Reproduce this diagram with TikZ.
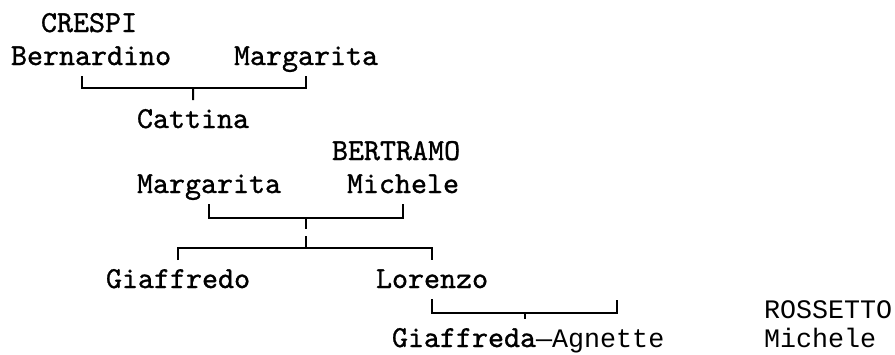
\documentclass[tikz,border=0pt]{standalone}
\usepackage{fontspec}
\usetikzlibrary{calc}
\newfontfamily\serifmono{lmmono10-regular.otf}[FakeBold=1]
\newfontfamily\sansmono{Liberation Mono}

\begin{document}
\begin{tikzpicture}[x=1pt,y=-1pt,
  person/.style={anchor=base west,inner sep=0pt,text height=27pt,text depth=10pt,
    font=\serifmono\fontsize{30.5}{32}\selectfont},
  sperson/.style={person,font=\sansmono\fontsize{26.7}{32}\selectfont},
  line width=2pt]
  \useasboundingbox (0,0) rectangle (895,354);

  % CRESPI
  \node[person] (crespi) at (40,32) {CRESPI};
  \node[person] (bern) at (10,65) {Bernardino};
  \node[person] (marg1) at (233,65) {Margarita};
  \node[person] (catt) at (136,128) {Cattina};

  % BERTRAMO
  \node[person] (bertramo) at (331,160) {BERTRAMO};
  \node[person] (marg2) at (136,193) {Margarita};
  \node[person] (mich) at (346,193) {Michele};
  \node[person] (giaf) at (105,288) {Giaffredo};
  \node[person] (lore) at (375,288) {Lorenzo};
  \node[person] (agn) at (391,347) {Giaffreda{\sansmono\fontsize{26.7}{32}\selectfont—Agnette}};

  % ROSSETTO
  \node[sperson] (rossetto) at (763,318) {ROSSETTO};
  \node[sperson] (mich2) at (763,347) {Michele};

  \coordinate (j1) at ($(catt.north)!0.5!(catt.north |- marg1.south)$);
  \draw ([xshift=-9pt]bern.south) |- (j1) -| (marg1.south);
  \draw (j1) -- (catt.north);

  \coordinate (j2) at ($(marg2.south)!0.5!(mich.south) + (0,14)$);
  \coordinate (j3) at ($(j2) + (0,30)$);
  \draw (marg2.south) |- (j2) -| (mich.south);
  \draw[dash pattern=on 11pt off 7pt on 12pt] (j2) -- (j3);
  \draw (giaf.north) |- (j3) -| (lore.north);

  \coordinate (sp) at (617,300);
  \coordinate (j4) at ($(lore.south)!0.5!(sp) + (0,13)$);
  \draw (lore.south) |- (j4) -| (sp);
  \draw (j4) -- (j4 |- agn.north);
\end{tikzpicture}
\end{document}
